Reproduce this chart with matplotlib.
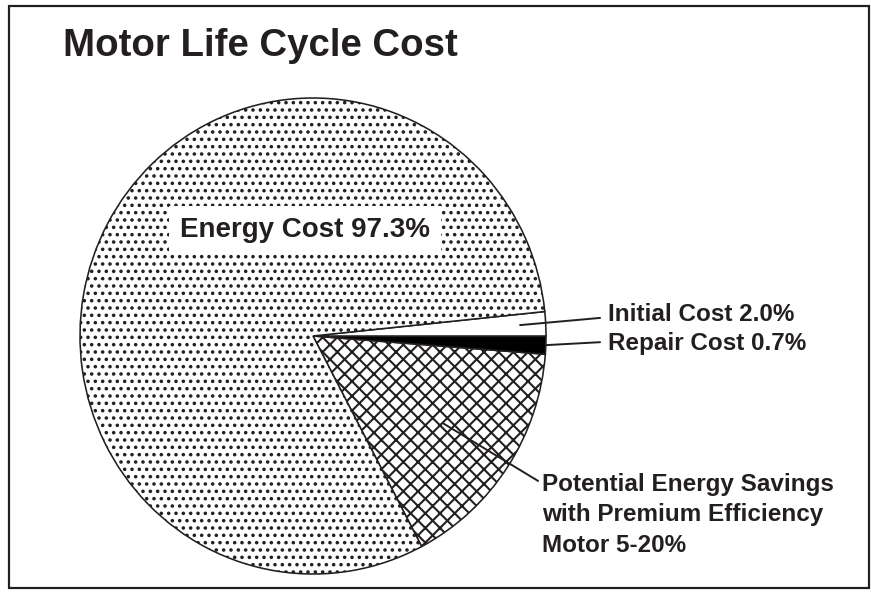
import matplotlib
matplotlib.use("Agg")
import matplotlib.pyplot as plt
import numpy as np
from matplotlib.patches import Rectangle

# wedges as drawn (arc in degrees -- the drawing is not to scale)
slices = ["Potential Energy Savings", "Repair Cost", "Initial Cost", "Energy Cost"]
arc_deg = [57.8, 4.4, 5.9, 291.9]
start_deg = -62.2
fills = ["white", "black", "white", "white"]
hatches = ["xx", None, None, ".."]

title = "Motor Life Cycle Cost"
energy_label = "Energy Cost 97.3%"
initial_label = "Initial Cost 2.0%"
repair_label = "Repair Cost 0.7%"
savings_label = "Potential Energy Savings\nwith Premium Efficiency\nMotor 5-20%"

INK = "#231f20"
DPI = 88
W, H = 871, 592
plt.rcParams["font.family"] = ["Liberation Sans", "DejaVu Sans"]
plt.rcParams["hatch.linewidth"] = 1.7

fig = plt.figure(figsize=(W / DPI, H / DPI), dpi=DPI)
fig.patches.append(Rectangle((9 / W, 4 / H), 860 / W, 582 / H, transform=fig.transFigure,
                             fill=False, lw=1.8, ec=INK))
fig.text(62.7 / W, (H - 56) / H, title, fontsize=31.4, fontweight="bold", color=INK, va="baseline")

# pie axes: centre ~ (313, 336) px, semi-axes 233 x 238 px
ax = fig.add_axes([80 / W, 18 / H, 466 / W, 476 / H])
wedges, _ = ax.pie(arc_deg, startangle=start_deg, counterclock=True, colors=fills,
                   wedgeprops=dict(edgecolor=INK, linewidth=1.3))
for w, h in zip(wedges, hatches):
    if h:
        w.set_hatch(h)
ax.set_aspect("auto")
ax.set_xlim(-1, 1)
ax.set_ylim(-1, 1)

ends = start_deg + np.cumsum(arc_deg)
mids = ends - np.array(arc_deg) / 2
mid = dict(zip(slices, mids))

def polar(angle, r):
    a = np.deg2rad(angle)
    return (r * np.cos(a), r * np.sin(a))

line = dict(arrowstyle="-", lw=1.6, color=INK, shrinkA=0, shrinkB=0)
lab = dict(fontsize=19.8, fontweight="bold", color=INK, va="baseline", ha="left")

ax.annotate("", xy=polar(mid["Initial Cost"], 0.89), xytext=(1.232, 0.076), arrowprops=line,
            annotation_clip=False)
ax.text(1.266, 0.064, initial_label, **lab)
ax.annotate("", xy=polar(mid["Repair Cost"], 1.0), xytext=(1.232, -0.026), arrowprops=line,
            annotation_clip=False)
ax.text(1.266, -0.059, repair_label, **lab)
ax.annotate("", xy=polar(mid["Potential Energy Savings"], 0.67), xytext=(0.966, -0.609),
            arrowprops=line, annotation_clip=False)
# baseline alignment of multi-line text uses the last line
ax.text(0.982, -0.906, savings_label, linespacing=1.4, **lab)

ax.text(-0.571, 0.417, energy_label, fontsize=22.7, fontweight="bold", color=INK,
        va="baseline", ha="left", bbox=dict(boxstyle="square,pad=0.4", fc="white", ec="none"))

fig.savefig("out.png", dpi=DPI)
